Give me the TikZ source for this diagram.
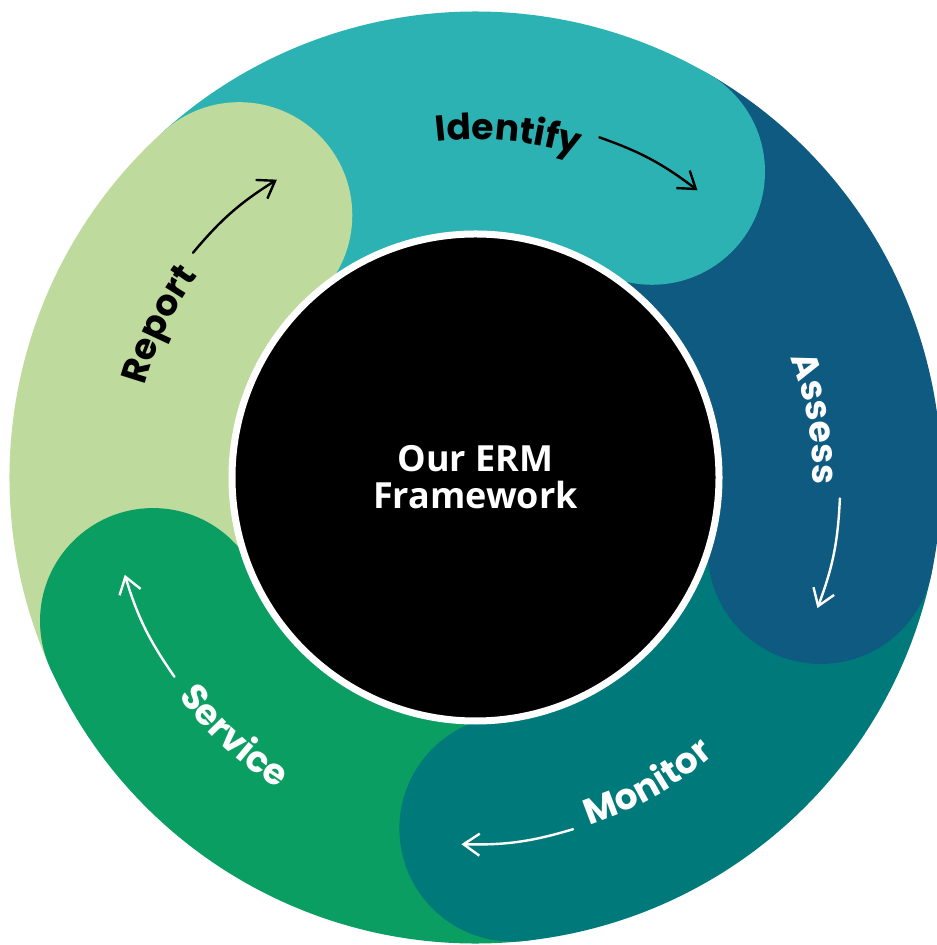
\documentclass[tikz,border=0pt]{standalone}
\usepackage{fontspec}
\setmainfont{Open Sans}
\newfontfamily\ringfont{Poppins}
\usetikzlibrary{arrows.meta, decorations.text}

\newcommand\bandfont{\ringfont\bfseries\fontsize{18}{18}\selectfont}

\begin{document}
\begin{tikzpicture}[
    x=0.5pt, y=0.5pt,
    band/.style = {draw=none},
    ringtext/.style = {decorate, decoration={text along path, text align=center, text color=#1}},
    flow/.style = {draw=#1, -{Straight Barb[length=8pt, width=11pt]}, line width=1.2pt, line cap=round, bend left=9},
    core/.style = {circle, fill=black, draw=white, line width=3.5pt, minimum size=243.5pt, inner sep=0pt, text=white, align=center, font=\bfseries\fontsize{18}{18.5}\selectfont}
]
    % Colors definition
    \definecolor{identifyc}{RGB}{44, 178, 178}
    \definecolor{assessc}{RGB}{15, 90, 128}
    \definecolor{monitorc}{RGB}{0, 121, 123}
    \definecolor{servicec}{RGB}{10, 158, 98}
    \definecolor{reportc}{RGB}{190, 218, 156}

    \useasboundingbox (-475.5,-467.5) rectangle (460.5,477.5);

    % Ring bands, 72 degrees each
    \fill[band, identifyc] (60:240) arc[start angle=60, end angle=132, radius=240] -- (132:466) arc[start angle=132, end angle=60, radius=466] -- cycle;
    \fill[band, assessc] (-12:240) arc[start angle=-12, end angle=60, radius=240] -- (60:466) arc[start angle=60, end angle=-12, radius=466] -- cycle;
    \fill[band, monitorc] (-84:240) arc[start angle=-84, end angle=-12, radius=240] -- (-12:466) arc[start angle=-12, end angle=-84, radius=466] -- cycle;
    \fill[band, servicec] (-156:240) arc[start angle=-156, end angle=-84, radius=240] -- (-84:466) arc[start angle=-84, end angle=-156, radius=466] -- cycle;
    \fill[band, reportc] (132:240) arc[start angle=132, end angle=204, radius=240] -- (204:466) arc[start angle=204, end angle=132, radius=466] -- cycle;

    % Rounded heads, each one over the next band
    \fill[band, identifyc] (60:353) circle[radius=113];
    \fill[band, assessc] (-12:353) circle[radius=113];
    \fill[band, monitorc] (-84:353) circle[radius=113];
    \fill[band, servicec] (-156:353) circle[radius=113];
    \fill[band, reportc] (132:353) circle[radius=113];

    % Centre
    \node (erm) [core] at (0,0) {Our ERM\\Framework};

    % Step labels
    \path[ringtext=black, decoration={text={|\bandfont|Identify}}] (109.5:338) arc[start angle=109.5, end angle=59.5, radius=338];
    \path[ringtext=white, decoration={text={|\bandfont|Assess}}] (34.8:337) arc[start angle=34.8, end angle=-15.2, radius=337];
    \path[ringtext=white, decoration={text={|\bandfont|Monitor}}] (-85.6:366) arc[start angle=-85.6, end angle=-35.6, radius=366];
    \path[ringtext=white, decoration={text={|\bandfont|Service}}] (-158:369) arc[start angle=-158, end angle=-108, radius=369];
    \path[ringtext=black, decoration={text={|\bandfont|Report}}] (179.2:343) arc[start angle=179.2, end angle=129.2, radius=343];

    % Arrow ends
    \coordinate (identify-from) at (70:362);
    \coordinate (identify-to) at (52.3:363);
    \coordinate (assess-from) at (-3.3:365);
    \coordinate (assess-to) at (-20.9:366);
    \coordinate (monitor-from) at (-74.5:365);
    \coordinate (monitor-to) at (-92.2:367);
    \coordinate (service-from) at (-146.5:361);
    \coordinate (service-to) at (-164.5:364);
    \coordinate (report-from) at (141.5:361);
    \coordinate (report-to) at (123.7:358);

    % Arrows
    \draw[flow=black] (identify-from) to (identify-to);
    \draw[flow=white] (assess-from) to (assess-to);
    \draw[flow=white] (monitor-from) to (monitor-to);
    \draw[flow=white] (service-from) to (service-to);
    \draw[flow=black] (report-from) to (report-to);

\end{tikzpicture}
\end{document}
